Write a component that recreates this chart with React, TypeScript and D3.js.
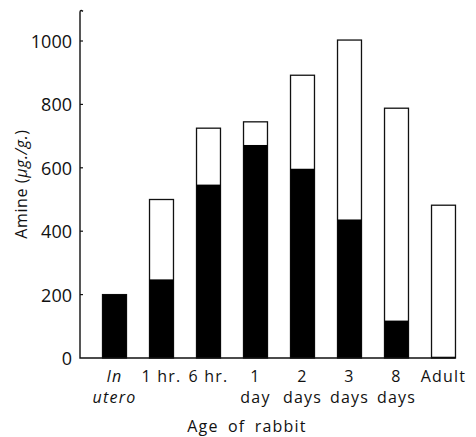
import React from 'react';
import * as d3 from 'd3';

// ages along the x axis, split over two lines as printed
const ageLine1 = ['In', '1 hr.', '6 hr.', '1', '2', '3', '8', 'Adult'];
const ageLine2 = ['utero', '', '', 'day', 'days', 'days', 'days', ''];
const italicAges = ['In'];

// black part of each bar and the total (outlined) height, µg./g.
const blackAmine = [200, 248, 547, 672, 597, 437, 118, 4];
const totalAmine = [200, 500, 725, 745, 892, 1003, 788, 482];

const yTicks = [0, 200, 400, 600, 800, 1000];

const App = () => {
    const svgRef = React.useRef<SVGSVGElement>(null);

    React.useEffect(() => {
        const svg = d3.select(svgRef.current);
        svg.selectAll('*').remove();

        const font = '"Open Sans", Lato, sans-serif';
        const keys = ageLine1.map((d, i) => `${d} ${ageLine2[i]}`);
        const data = keys.map((k, i) => ({key: k, black: blackAmine[i], total: totalAmine[i]}));

        const xScale = d3.scaleBand<string>()
            .domain(keys)
            .range([91, 467])
            .paddingInner(0.49)
            .paddingOuter(0.245);
        const yScale = d3.scaleLinear().domain([0, 1000]).range([358, 41]);

        const g = svg.append('g');

        // outlined totals
        g.selectAll('.total')
            .data(data)
            .join('rect')
            .attr('class', 'total')
            .attr('x', d => xScale(d.key)!)
            .attr('width', xScale.bandwidth())
            .attr('y', d => yScale(d.total))
            .attr('height', d => yScale(0) - yScale(d.total))
            .attr('fill', '#fff')
            .attr('stroke', '#111')
            .attr('stroke-width', 1.3);

        // black lower part
        g.selectAll('.black')
            .data(data)
            .join('rect')
            .attr('class', 'black')
            .attr('x', d => xScale(d.key)!)
            .attr('width', xScale.bandwidth())
            .attr('y', d => yScale(d.black))
            .attr('height', d => yScale(0) - yScale(d.black))
            .attr('fill', '#000');

        // axes drawn by hand, like the printed figure
        const x0 = 80;
        svg.append('path')
            .attr('d', `M${x0 + 3},${yScale(1100) + 2} Q${x0},${yScale(1100)} ${x0},${yScale(1090)} L${x0},${yScale(0)} L${xScale(keys[keys.length - 1])! + xScale.bandwidth()},${yScale(0)}`)
            .attr('fill', 'none')
            .attr('stroke', '#111')
            .attr('stroke-width', 1.4);

        svg.selectAll('.ytick')
            .data(yTicks.slice(1))
            .join('line')
            .attr('x1', x0).attr('x2', x0 + 3)
            .attr('y1', d => yScale(d)).attr('y2', d => yScale(d))
            .attr('stroke', '#111')
            .attr('stroke-width', 1.2);

        svg.selectAll('.ylabel')
            .data(yTicks)
            .join('text')
            .attr('x', 72)
            .attr('y', d => yScale(d) + 7)
            .attr('text-anchor', 'end')
            .attr('font-family', font)
            .attr('font-size', 18)
            .attr('fill', '#111')
            .text(d => d);

        const label = (sel, size) => sel
            .attr('text-anchor', 'middle')
            .attr('font-family', font)
            .attr('font-size', size)
            .attr('letter-spacing', 1.2)
            .attr('fill', '#111');

        svg.selectAll('.xlabel1')
            .data(keys)
            .join('text')
            .attr('x', d => xScale(d)! + xScale.bandwidth() / 2)
            .attr('y', 382)
            .call(label, 16)
            .attr('font-style', (d, i) => italicAges.includes(ageLine1[i]) ? 'italic' : 'normal')
            .text((d, i) => ageLine1[i]);

        svg.selectAll('.xlabel2')
            .data(keys)
            .join('text')
            .attr('x', d => xScale(d)! + xScale.bandwidth() / 2)
            .attr('y', 403)
            .call(label, 16)
            .attr('font-style', (d, i) => i === 0 ? 'italic' : 'normal')
            .text((d, i) => ageLine2[i]);

        svg.append('text')
            .attr('x', 247)
            .attr('y', 432)
            .call(label, 16)
            .attr('word-spacing', 4)
            .text('Age of rabbit');

        const yTitle = svg.append('text')
            .attr('transform', 'translate(27,184) rotate(-90)')
            .call(label, 16)
            .attr('letter-spacing', 0.6);
        yTitle.append('tspan').text('Amine (');
        yTitle.append('tspan').attr('font-style', 'italic').text('µg./g.');
        yTitle.append('tspan').text(')');
    }, []);

    return (
        <svg ref={svgRef} width={476} height={437}
             style={{position: 'absolute', left: 0, top: 0, background: '#fff'}}></svg>
    );
};

export default App;
